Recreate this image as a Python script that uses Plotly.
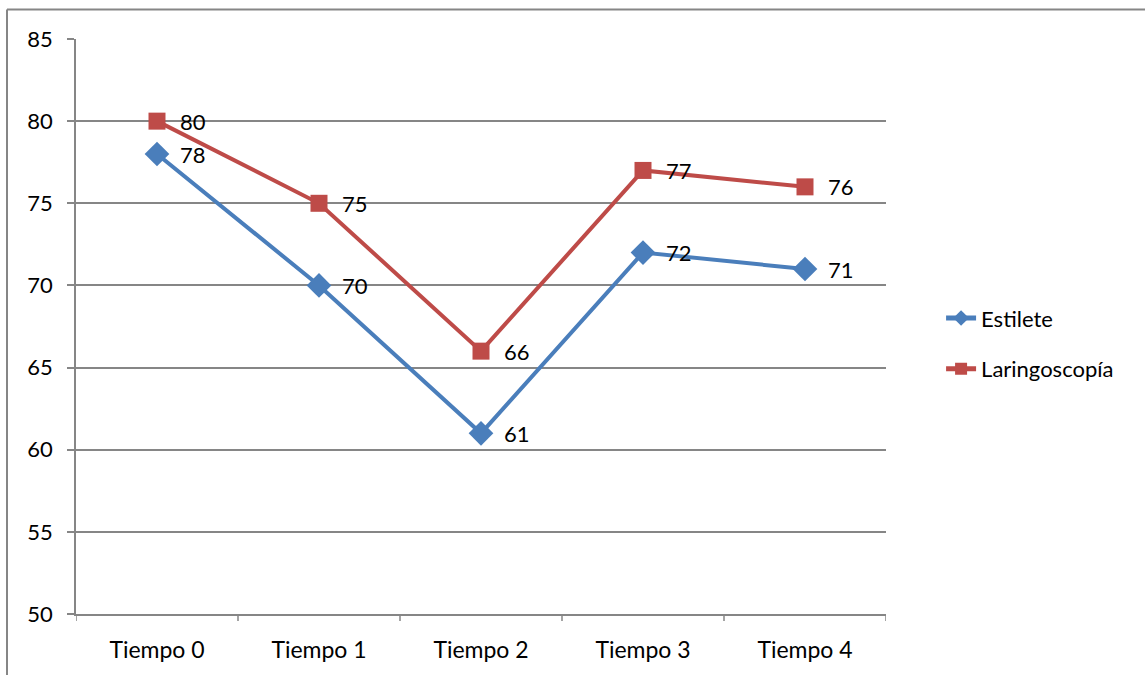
import plotly.graph_objects as go

categories = ["Tiempo 0", "Tiempo 1", "Tiempo 2", "Tiempo 3", "Tiempo 4"]
estilete = [78, 70, 61, 72, 71]
laringoscopia = [80, 75, 66, 77, 76]
y_ticks = [50, 55, 60, 65, 70, 75, 80, 85]

BLUE = "#4A7EBB"
RED = "#BE4B48"
GRID = "#868686"
FONT = "Lato"

W, H = 1145, 675
ML, MR, MT, MB = 76, 259, 39, 61
PW, PH = W - ML - MR, H - MT - MB

fig = go.Figure()
fig.add_trace(go.Scatter(
    x=list(range(len(categories))), y=estilete, name="Estilete",
    mode="lines+markers", legendgroup="a",
    line=dict(color=BLUE, width=4),
    marker=dict(symbol="diamond", size=19, color=BLUE),
))
fig.add_trace(go.Scatter(
    x=list(range(len(categories))), y=laringoscopia, name="Laringoscopía",
    mode="lines+markers", legendgroup="b",
    line=dict(color=RED, width=4),
    marker=dict(symbol="square", size=17, color=RED),
))

# value labels to the right of each marker
for series in (estilete, laringoscopia):
    for i, v in enumerate(series):
        fig.add_annotation(x=i, y=v, text=str(v), showarrow=False,
                           xanchor="left", yanchor="middle", xshift=21,
                           font=dict(family=FONT, size=22, color="#000000"))

# outer chart frame (top and left edges)
fig.add_shape(type="line", xref="paper", yref="paper",
              x0=(7 - ML) / PW, x1=(W + 5 - ML) / PW,
              y0=1 + (MT - 9.5) / PH, y1=1 + (MT - 9.5) / PH,
              line=dict(color="#868686", width=2))
fig.add_shape(type="line", xref="paper", yref="paper",
              x0=(7 - ML) / PW, x1=(7 - ML) / PW,
              y0=-(MB + 5) / PH, y1=1 + (MT - 9.5) / PH,
              line=dict(color="#868686", width=2))

# category boundary tick marks below the x axis
for b in range(len(categories) + 1):
    fig.add_shape(type="line", xref="x", yref="paper",
                  x0=b - 0.5, x1=b - 0.5, y0=0, y1=-7 / PH,
                  line=dict(color=GRID, width=1.5))

fig.update_layout(
    width=W, height=H,
    margin=dict(l=ML, r=MR, t=MT, b=MB),
    paper_bgcolor="white", plot_bgcolor="white",
    font=dict(family=FONT, size=22, color="#000000"),
    showlegend=True,
    legend=dict(x=1.068, y=0.47, xanchor="left", yanchor="middle",
                font=dict(family=FONT, size=22, color="#000000"),
                bgcolor="rgba(0,0,0,0)", traceorder="grouped",
                tracegroupgap=19, itemsizing="constant"),
    xaxis=dict(
        range=[-0.5, len(categories) - 0.5],
        tickmode="array", tickvals=list(range(len(categories))), ticktext=categories,
        showgrid=False, zeroline=False,
        showline=True, linecolor=GRID, linewidth=1.5,
        ticks="", ticklabelstandoff=15,
        tickfont=dict(family=FONT, size=23),
    ),
    yaxis=dict(
        range=[50, 85], tickmode="array", tickvals=y_ticks,
        showgrid=True, gridcolor=GRID, gridwidth=1.5,
        zeroline=False,
        showline=True, linecolor=GRID, linewidth=1.5,
        ticks="outside", ticklen=7, tickcolor=GRID, tickwidth=1.5,
        ticklabelstandoff=10,
        tickfont=dict(family=FONT, size=22),
    ),
)

fig.write_html("out.html")
